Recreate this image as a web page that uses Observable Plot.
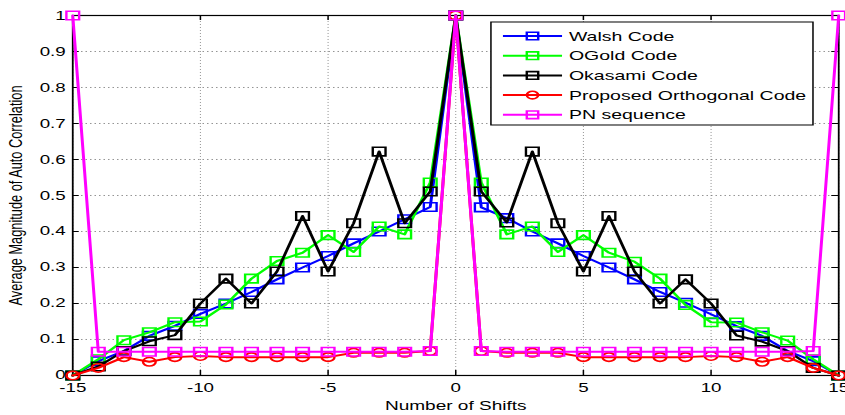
<!DOCTYPE html>
<html>
<head>
<meta charset="utf-8">
<script src="https://cdn.jsdelivr.net/npm/d3@7"></script>
<script src="https://cdn.jsdelivr.net/npm/@observablehq/plot@0.6"></script>
<style>
  html, body { margin: 0; padding: 0; background: #fff; }
  #chart { width: 845px; height: 415px; overflow: hidden; }
  /* the figure is laid out narrow and widened horizontally */
  #chart svg { transform: scale(1.5, 1); transform-origin: 0 0; display: block; }
</style>
</head>
<body>
<div id="chart"></div>
<script>
// Number of shifts (x) and average auto-correlation magnitude per code family
const shifts = [-15, -14, -13, -12, -11, -10, -9, -8, -7, -6, -5, -4, -3, -2, -1, 0,
                1, 2, 3, 4, 5, 6, 7, 8, 9, 10, 11, 12, 13, 14, 15];

const walsh = [0, 0.04, 0.068, 0.11, 0.138, 0.171, 0.2, 0.232, 0.267, 0.3, 0.332, 0.367, 0.4, 0.434, 0.468, 1,
               0.467, 0.437, 0.4, 0.367, 0.332, 0.3, 0.267, 0.232, 0.202, 0.17, 0.137, 0.11, 0.068, 0.04, 0];

const ogold = [0, 0.045, 0.098, 0.12, 0.148, 0.15, 0.197, 0.269, 0.318, 0.341, 0.39, 0.343, 0.414, 0.392, 0.536, 1,
               0.536, 0.392, 0.414, 0.343, 0.39, 0.341, 0.316, 0.269, 0.196, 0.148, 0.147, 0.12, 0.097, 0.045, 0];

const okasami = [0, 0.025, 0.068, 0.095, 0.112, 0.2, 0.269, 0.2, 0.289, 0.443, 0.289, 0.423, 0.622, 0.423, 0.511, 1,
                 0.511, 0.425, 0.622, 0.423, 0.289, 0.443, 0.289, 0.2, 0.267, 0.2, 0.111, 0.094, 0.068, 0.021, 0];

const proposed = [0, 0.021, 0.051, 0.038, 0.051, 0.054, 0.051, 0.051, 0.051, 0.051, 0.051, 0.063, 0.063, 0.063, 0.068, 1,
                  0.068, 0.063, 0.063, 0.063, 0.051, 0.051, 0.051, 0.051, 0.051, 0.054, 0.051, 0.038, 0.051, 0.021, 0];

const pnSequence = [1, 0.066, 0.066, 0.066, 0.066, 0.066, 0.066, 0.066, 0.066, 0.066, 0.066, 0.066, 0.066, 0.066, 0.068, 1,
                    0.068, 0.066, 0.066, 0.066, 0.066, 0.066, 0.066, 0.066, 0.066, 0.066, 0.066, 0.066, 0.066, 0.068, 1];

const seriesNames = ["Walsh Code", "OGold Code", "Okasami Code", "Proposed Orthogonal Code", "PN sequence"];
const seriesValues = [walsh, ogold, okasami, proposed, pnSequence];
const seriesColors = ["#0000ff", "#00ff00", "#000000", "#ff0000", "#ff00ff"];
const seriesSymbols = ["square", "square", "square", "circle", "square"];

const xTicks = [-15, -10, -5, 0, 5, 10, 15];
const xTickLabels = ["-15", "-10", "-5", "0", "5", "10", "15"];
const yTicks = [0, 0.1, 0.2, 0.3, 0.4, 0.5, 0.6, 0.7, 0.8, 0.9, 1];
const yTickLabels = ["0", "0.1", "0.2", "0.3", "0.4", "0.5", "0.6", "0.7", "0.8", "0.9", "1"];

const xLabel = "Number of Shifts";
const yLabel = "Average Magnitude of Auto Correlation";

// Layout (in the narrow coordinate space before the horizontal widening)
const STRETCH = 1.5;
const W = 845 / STRETCH, H = 415;
const M = { top: 15, right: 7 / STRETCH, bottom: 40, left: 72 / STRETCH };
const plotW = W - M.left - M.right;
const plotH = H - M.top - M.bottom;
const FONT = "'Liberation Sans', Arial, Helvetica, sans-serif";

const rows = seriesValues.flatMap((vals, s) =>
  shifts.map((x, i) => ({ series: seriesNames[s], x, y: vals[i] }))
);

const seriesMarks = seriesNames.flatMap((name, s) => {
  const data = rows.filter(d => d.series === name);
  const r = seriesSymbols[s] === "circle" ? 4.25 : 4.8;
  return [
    Plot.line(data, { x: "x", y: "y", stroke: seriesColors[s], strokeWidth: 2 }),
    Plot.dot(data, { x: "x", y: "y", stroke: seriesColors[s], fill: "none",
                     symbol: seriesSymbols[s], r, strokeWidth: 1.6 })
  ];
});

const gridStyle = { stroke: "#6e6e6e", strokeWidth: 0.6, strokeDasharray: "1,2", strokeOpacity: 1 };

const chart = Plot.plot({
  width: W,
  height: H,
  marginTop: M.top,
  marginRight: M.right,
  marginBottom: M.bottom,
  marginLeft: M.left,
  style: { fontFamily: FONT, background: "#fff", color: "#000", overflow: "visible" },
  x: { domain: [-15, 15] },
  y: { domain: [0, 1] },
  marks: [
    // dotted grid
    Plot.ruleX(xTicks, gridStyle),
    Plot.ruleY(yTicks, gridStyle),
    // inward tick marks on all four sides
    Plot.ruleX(xTicks, { stroke: "#000", strokeWidth: 1, insetTop: plotH - 5 }),
    Plot.ruleX(xTicks, { stroke: "#000", strokeWidth: 1, insetBottom: plotH - 5 }),
    Plot.ruleY(yTicks, { stroke: "#000", strokeWidth: 1, insetRight: plotW - 4.5 }),
    Plot.ruleY(yTicks, { stroke: "#000", strokeWidth: 1, insetLeft: plotW - 4.5 }),
    Plot.frame({ stroke: "#000", strokeWidth: 1.2 }),
    ...seriesMarks,
    Plot.axisX({
      ticks: xTicks, tickSize: 0, tickPadding: 8, fontSize: 12.5, label: null,
      tickFormat: d => xTickLabels[xTicks.indexOf(d)]
    }),
    Plot.axisY({
      ticks: yTicks, tickSize: 0, tickPadding: 4.7, fontSize: 12.5, label: null,
      tickFormat: d => yTickLabels[yTicks.indexOf(d)]
    }),
    Plot.text([xLabel], {
      text: d => d, frameAnchor: "bottom", dy: 35, lineAnchor: "bottom",
      textAnchor: "middle", fontSize: 12.7, fill: "#000"
    }),
    Plot.text([yLabel], {
      text: d => d, frameAnchor: "left", dx: 10.3 - M.left, rotate: -90,
      textAnchor: "middle", lineAnchor: "middle", fontSize: 12.8, fill: "#000"
    })
  ]
});

// Legend box in the upper right of the plot area
const svg = d3.select(chart);
const L = { x: 327.3, y: 22, w: 214.7, h: 103, row0: 36, rowGap: 19.7,
            lineX1: 335.3, lineX2: 374.7, markX: 355, textX: 379.3 };
const legend = svg.append("g").attr("class", "legend").attr("text-anchor", "start");
legend.append("rect")
  .attr("x", L.x).attr("y", L.y).attr("width", L.w).attr("height", L.h)
  .attr("fill", "#ffffff").attr("stroke", "#000").attr("stroke-width", 1);

seriesNames.forEach((name, i) => {
  const cy = L.row0 + i * L.rowGap;
  const g = legend.append("g");
  g.append("line")
    .attr("x1", L.lineX1).attr("x2", L.lineX2).attr("y1", cy).attr("y2", cy)
    .attr("stroke", seriesColors[i]).attr("stroke-width", 2);
  const r = seriesSymbols[i] === "circle" ? 3.8 : 4.3;
  const sym = seriesSymbols[i] === "circle" ? d3.symbolCircle : d3.symbolSquare;
  g.append("path")
    .attr("d", d3.symbol(sym, Math.PI * r * r)())
    .attr("transform", `translate(${L.markX},${cy})`)
    .attr("fill", "none").attr("stroke", seriesColors[i]).attr("stroke-width", 1.6);
  g.append("text")
    .attr("x", L.textX).attr("y", cy).attr("dy", "0.35em")
    .attr("text-anchor", "start")
    .attr("font-family", FONT).attr("font-size", 13).attr("fill", "#000")
    .text(name);
});

document.getElementById("chart").appendChild(chart);
</script>
</body>
</html>
